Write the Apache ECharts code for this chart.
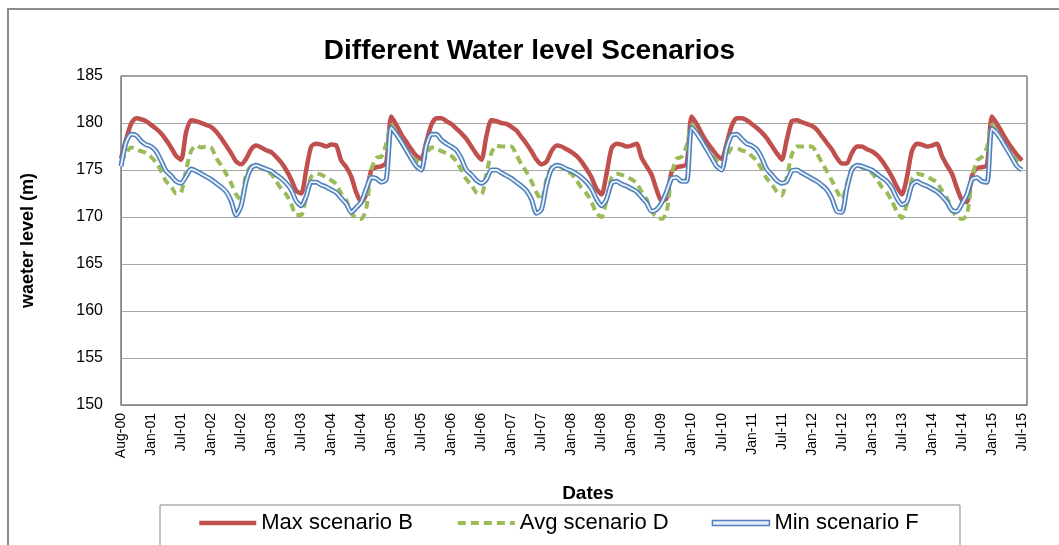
<!DOCTYPE html>
<html>
<head>
<meta charset="utf-8">
<script src="https://cdn.jsdelivr.net/npm/echarts@6.0.0/dist/echarts.min.js"></script>
<style>
  html, body { margin: 0; padding: 0; background: #fff; }
  #chart { width: 1059px; height: 545px; }
</style>
</head>
<body>
<div id="chart"></div>
<script>
// x tick labels, one every ~6 months (x value = months since Aug-00)
var tickLabels = ['Aug-00','Jan-01','Jul-01','Jan-02','Jul-02','Jan-03','Jul-03','Jan-04','Jul-04','Jan-05',
  'Jul-05','Jan-06','Jul-06','Jan-07','Jul-07','Jan-08','Jul-08','Jan-09','Jul-09','Jan-10',
  'Jul-10','Jan-11','Jul-11','Jan-12','Jul-12','Jan-13','Jul-13','Jan-14','Jul-14','Jan-15','Jul-15'];

// monthly water levels (m)
var maxB = [
  176.2,178.2,179.9,180.5,180.4,180.2,179.8,179.4,178.9,178.2,
  177.4,176.5,176.1,179.0,180.3,180.2,180.0,179.8,179.6,179.1,
  178.4,177.6,176.8,175.9,175.6,176.2,177.2,177.6,177.4,177.1,
  176.9,176.4,175.8,175.0,174.0,172.8,172.5,175.0,177.5,177.8,
  177.7,177.5,177.7,177.6,176.0,175.3,174.3,172.6,171.6,172.4,
  175.0,175.3,175.4,175.8,180.7,179.8,178.8,178.0,177.2,176.5,
  176.2,178.0,179.8,180.5,180.5,180.2,179.9,179.4,178.9,178.3,
  177.5,176.7,176.1,178.6,180.3,180.2,180.0,179.9,179.6,179.2,
  178.5,177.8,177.0,176.1,175.6,175.9,177.0,177.6,177.5,177.2,
  176.9,176.5,175.9,175.1,174.2,173.0,172.4,174.6,177.3,177.8,
  177.7,177.5,177.6,177.8,176.3,175.4,174.5,172.9,171.7,172.0,
  174.8,175.3,175.4,175.6,180.7,179.9,178.9,178.0,177.3,176.6,
  176.2,177.8,179.7,180.5,180.5,180.3,179.9,179.5,179.0,178.4,
  177.6,176.8,176.1,178.2,180.2,180.3,180.1,179.9,179.7,179.3,
  178.6,177.9,177.2,176.3,175.7,175.7,176.8,177.5,177.5,177.2,
  177.0,176.6,176.0,175.2,174.3,173.2,172.4,174.2,177.0,177.8,
  177.7,177.5,177.6,177.8,176.5,175.5,174.6,173.1,171.8,171.6,
  174.4,175.2,175.3,175.5,180.7,179.9,179.0,178.1,177.3,176.6,
  176.0
];
var avgD = [
  175.8,176.8,177.4,177.2,177.0,176.8,176.4,175.8,174.9,173.8,
  173.3,172.5,172.6,175.0,177.0,177.6,177.4,177.5,177.4,176.3,
  175.5,174.6,173.6,172.4,171.8,174.6,175.4,175.5,175.2,174.9,
  174.6,173.8,173.0,172.4,171.4,170.2,170.2,172.2,174.3,174.6,
  174.5,174.2,173.9,173.5,172.5,171.8,170.4,169.9,169.8,170.9,
  175.0,176.3,176.4,177.8,179.8,179.0,178.0,177.2,176.5,176.0,
  175.6,176.6,177.4,177.3,177.0,176.8,176.5,175.9,175.0,174.0,
  173.4,172.6,172.4,174.6,176.8,177.6,177.5,177.5,177.5,176.6,
  175.6,174.8,173.8,172.6,171.8,174.0,175.3,175.5,175.3,174.9,
  174.6,173.9,173.1,172.5,171.6,170.4,170.0,171.8,174.2,174.6,
  174.5,174.3,174.0,173.6,172.7,171.9,170.6,170.0,169.8,170.5,
  174.5,176.2,176.4,177.6,179.8,179.1,178.1,177.3,176.6,176.0,
  175.5,176.4,177.3,177.3,177.1,176.9,176.5,176.0,175.1,174.1,
  173.5,172.7,172.3,174.2,176.6,177.5,177.5,177.5,177.5,176.8,
  175.8,174.9,173.9,172.8,171.9,173.5,175.2,175.5,175.3,175.0,
  174.7,174.0,173.2,172.6,171.7,170.6,169.9,171.4,174.0,174.6,
  174.5,174.3,174.0,173.7,172.8,172.0,170.8,170.0,169.8,170.2,
  174.0,176.0,176.4,177.4,179.8,179.1,178.2,177.4,176.6,176.0,
  175.5
];
var minF = [
  175.4,177.9,178.8,178.7,178.1,177.7,177.5,177.0,176.0,174.9,
  174.4,173.8,173.6,174.3,175.1,174.9,174.6,174.3,174.0,173.6,
  173.2,172.7,171.7,170.2,171.2,173.8,175.2,175.5,175.3,175.1,
  174.9,174.5,174.1,173.6,172.9,171.7,171.2,172.2,173.7,173.7,
  173.4,173.2,172.9,172.6,172.0,171.4,170.5,171.0,171.6,173.0,
  174.2,174.1,173.7,174.0,179.5,178.8,178.0,177.1,176.2,175.4,
  175.0,177.6,178.8,178.8,178.2,177.8,177.5,177.1,176.2,175.0,
  174.5,173.9,173.6,174.0,175.0,175.0,174.7,174.4,174.1,173.7,
  173.3,172.8,171.9,170.4,170.8,173.4,175.1,175.5,175.4,175.1,
  174.9,174.6,174.2,173.7,173.0,171.9,171.2,171.9,173.6,173.8,
  173.5,173.3,173.0,172.7,172.1,171.5,170.6,170.8,171.5,172.7,
  174.1,174.2,173.8,173.8,179.5,178.9,178.1,177.2,176.3,175.4,
  175.0,177.3,178.7,178.8,178.3,177.8,177.6,177.2,176.3,175.1,
  174.5,173.9,173.6,173.8,174.9,175.0,174.7,174.4,174.1,173.8,
  173.4,172.9,172.0,170.6,170.5,173.0,175.0,175.5,175.4,175.2,
  175.0,174.6,174.2,173.8,173.1,172.0,171.3,171.6,173.4,173.8,
  173.5,173.3,173.0,172.7,172.2,171.6,170.7,170.6,171.4,172.4,
  174.0,174.2,173.8,173.7,179.4,178.9,178.1,177.2,176.3,175.4,
  175.0
];

function toPoints(arr) {
  return arr.map(function (v, i) { return [i, v]; });
}

var chart = echarts.init(document.getElementById('chart'));
var font = 'Liberation Sans, Arial, sans-serif';

chart.setOption({
  animation: false,
  backgroundColor: '#fff',
  title: {
    text: 'Different Water level Scenarios',
    left: 'center',
    top: 32,
    textStyle: { fontFamily: font, fontSize: 28, fontWeight: 'bold', color: '#000' }
  },
  grid: {
    left: 121,
    right: 32,
    top: 76,
    bottom: 140,
    show: true,
    borderColor: '#3a3a3a',
    borderWidth: 1
  },
  legend: {
    left: 197,
    top: 512,
    padding: 0,
    itemGap: 43,
    itemWidth: 57,
    itemHeight: 12,
    textStyle: { fontFamily: font, fontSize: 22, color: '#000' },
    data: [
      { name: 'Max scenario B', itemStyle: { opacity: 0 },
        lineStyle: { color: '#c0504d', width: 4.5 } },
      { name: 'Avg scenario D', itemStyle: { opacity: 0 },
        lineStyle: { color: '#9bbb59', width: 4, type: [8, 5] } },
      { name: 'Min scenario F', icon: 'path://M0,0H57V5H0Z',
        itemStyle: { color: '#e6eef8', borderColor: '#4f81bd', borderWidth: 1.5 } }
    ]
  },
  xAxis: {
    type: 'value',
    min: 0,
    max: 181,
    interval: 6,
    splitLine: { show: false },
    axisLine: { lineStyle: { color: '#868686' } },
    axisTick: { show: false },
    axisLabel: {
      rotate: 90,
      margin: 8,
      fontFamily: font,
      fontSize: 14,
      color: '#000',
      showMaxLabel: false,
      formatter: function (v) {
        return v % 6 === 0 ? (tickLabels[v / 6] || '') : '';
      }
    }
  },
  yAxis: {
    type: 'value',
    min: 150,
    max: 185,
    interval: 5,
    name: 'waeter level (m)',
    nameLocation: 'middle',
    nameGap: 84,
    nameTextStyle: { fontFamily: font, fontSize: 18, fontWeight: 'bold', color: '#000' },
    axisLine: { show: true, lineStyle: { color: '#868686' } },
    axisTick: { show: false },
    axisLabel: { margin: 18, fontFamily: font, fontSize: 16, color: '#000' },
    splitLine: { lineStyle: { color: '#a6a6a6', width: 1 } }
  },
  graphic: [
    { type: 'rect', shape: { x: 8, y: 9, width: 1100, height: 600 },
      style: { fill: 'none', stroke: '#8c8c8c', lineWidth: 2 }, silent: true },
    { type: 'rect', shape: { x: 160, y: 505, width: 800, height: 80 },
      style: { fill: 'none', stroke: '#868686', lineWidth: 1 }, silent: true },
    { type: 'text', x: 588, y: 494,
      style: { text: 'Dates', fontFamily: font, fontSize: 19, fontWeight: 'bold', fill: '#000',
        align: 'center', verticalAlign: 'middle' } }
  ],
  series: [
    {
      name: 'Max scenario B',
      type: 'line',
      data: toPoints(maxB),
      showSymbol: false,
      symbol: 'none',
      smooth: 0.25,
      lineStyle: { color: '#c0504d', width: 4.5 },
      itemStyle: { color: '#c0504d' }
    },
    {
      name: 'Avg scenario D',
      type: 'line',
      data: toPoints(avgD),
      showSymbol: false,
      symbol: 'none',
      smooth: 0.25,
      lineStyle: { color: '#9bbb59', width: 4, type: [8, 5] },
      itemStyle: { color: '#9bbb59' }
    },
    {
      name: 'Min scenario F',
      type: 'line',
      data: toPoints(minF),
      showSymbol: false,
      symbol: 'none',
      smooth: 0.25,
      lineStyle: { color: '#4f81bd', width: 5 },
      itemStyle: { color: '#4f81bd' }
    },
    {
      name: 'Min scenario F (inner)',
      type: 'line',
      data: toPoints(minF),
      showSymbol: false,
      symbol: 'none',
      smooth: 0.25,
      lineStyle: { color: '#eef3fa', width: 1.8 },
      itemStyle: { color: '#eef3fa' }
    }
  ]
});
</script>
</body>
</html>
